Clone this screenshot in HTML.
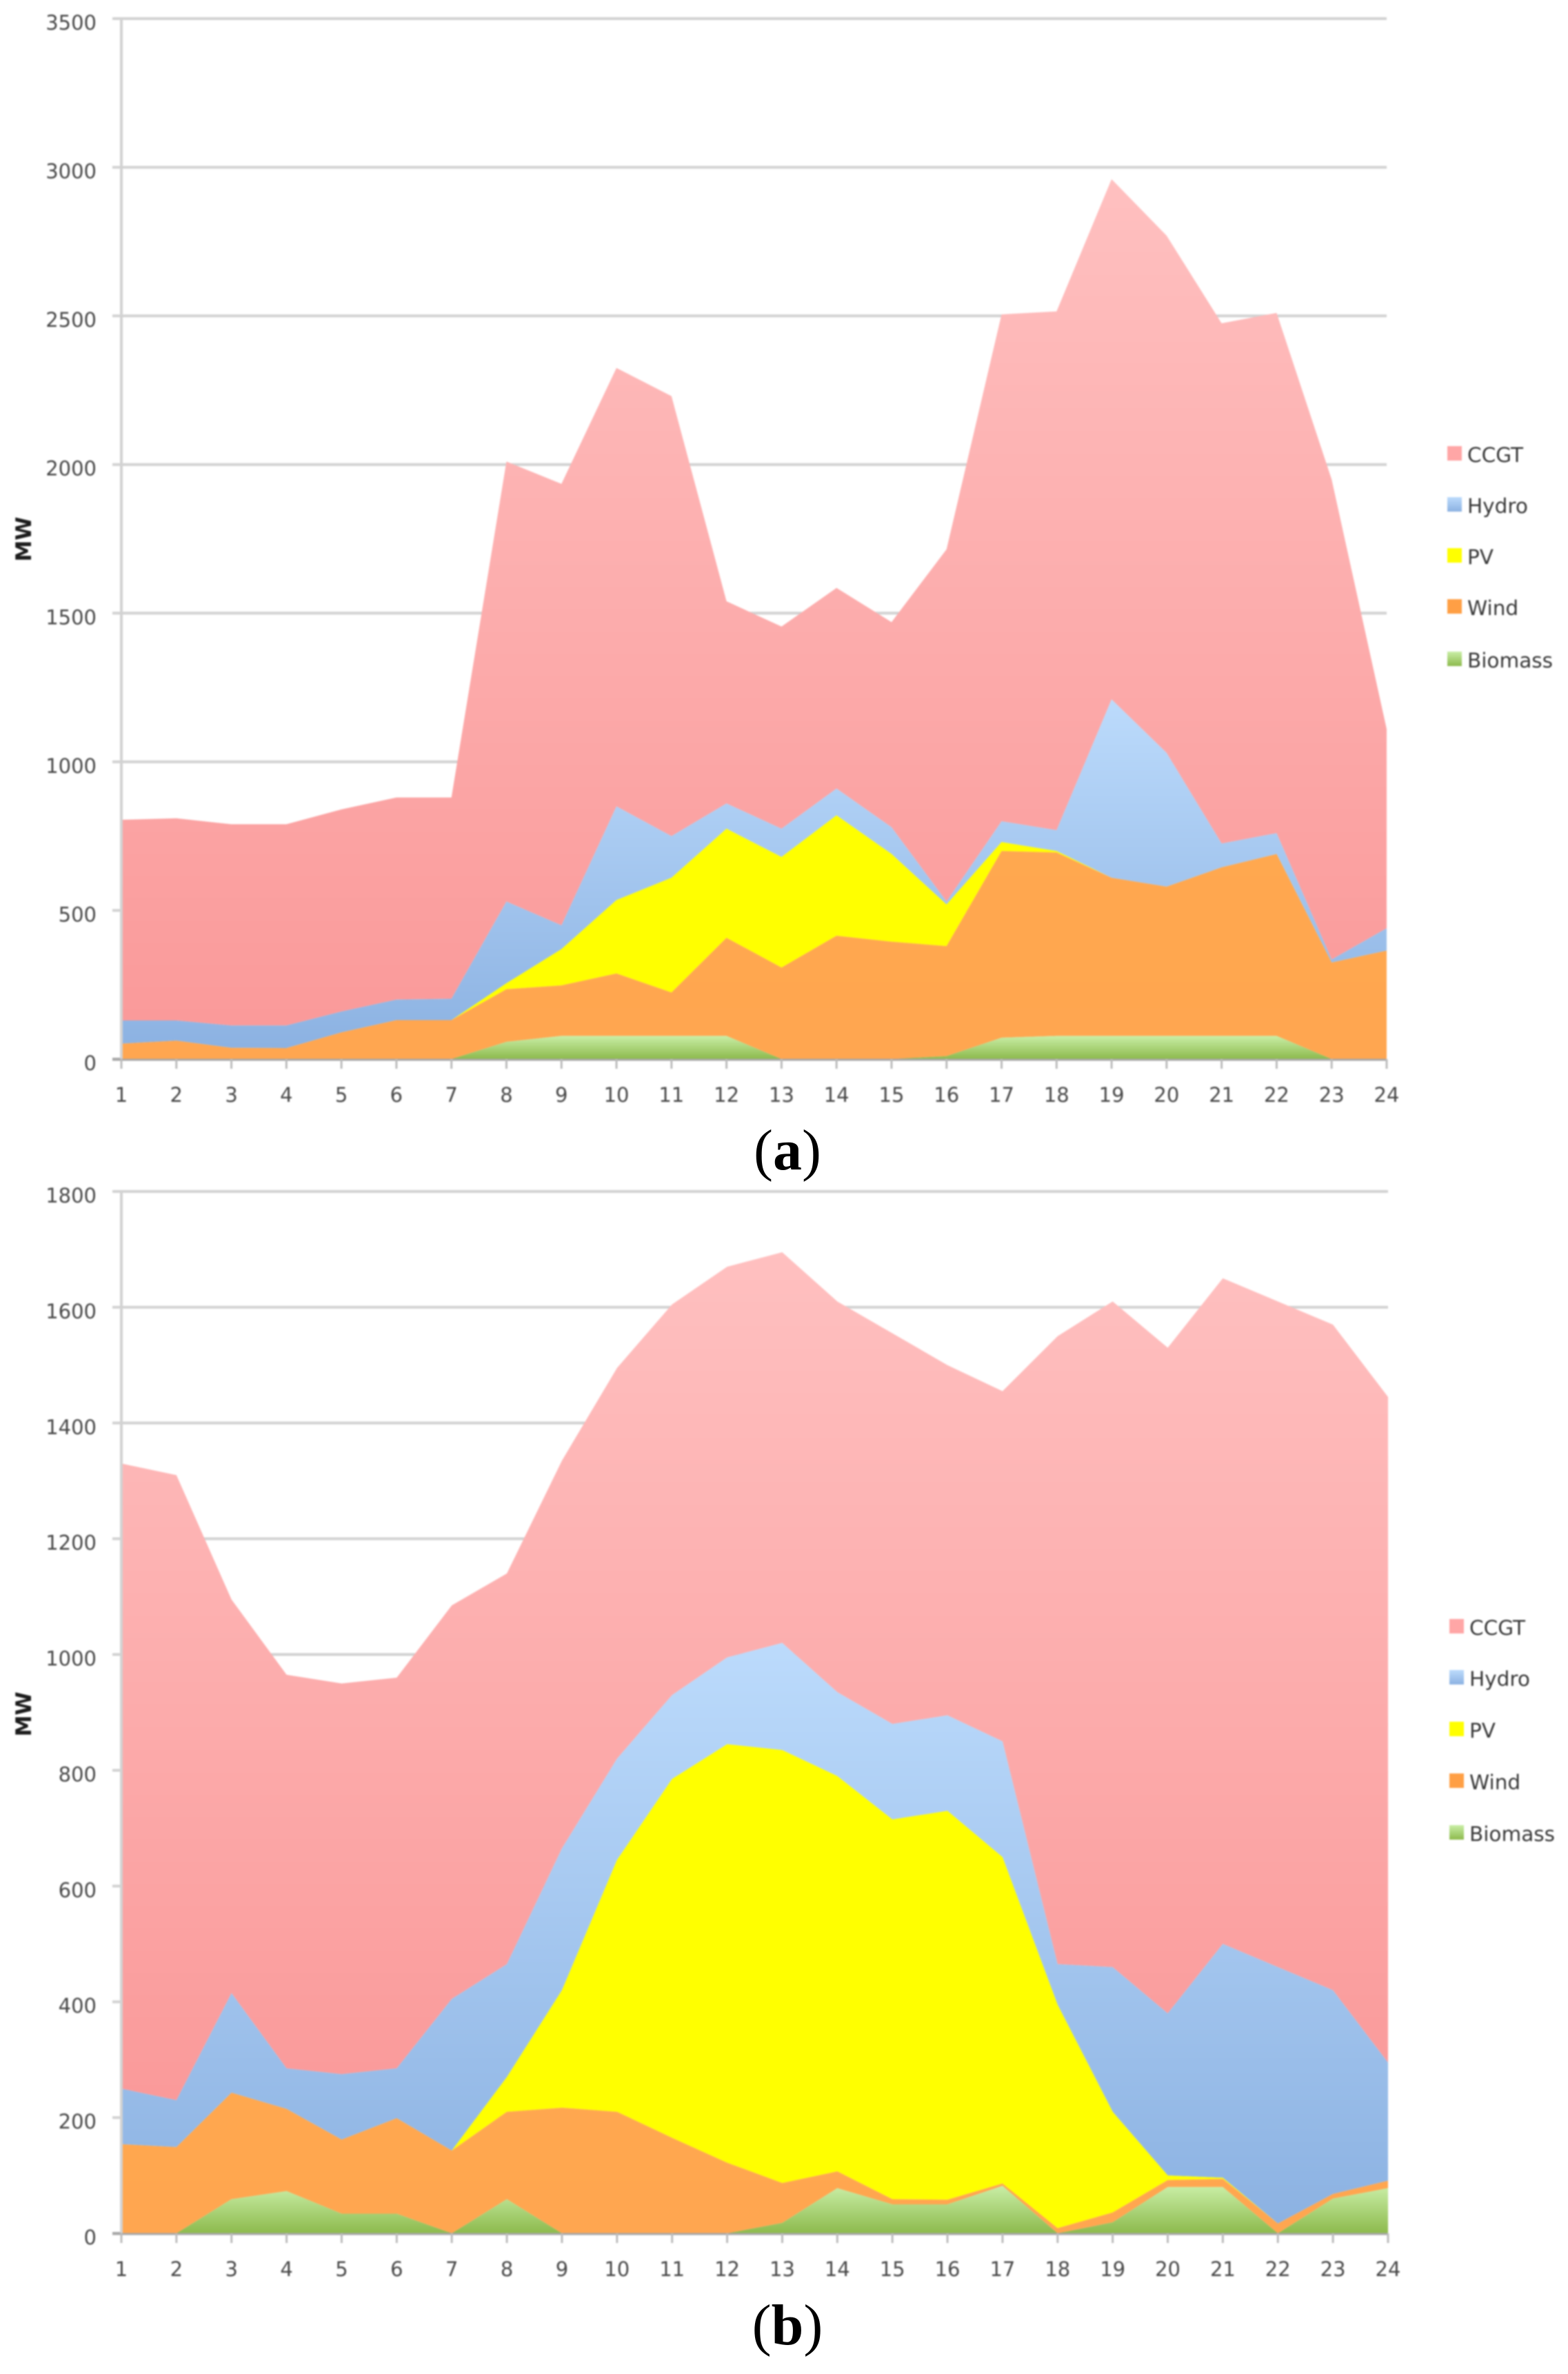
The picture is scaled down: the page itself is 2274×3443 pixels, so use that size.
<!DOCTYPE html>
<html lang="en">
<head>
<meta charset="utf-8">
<title>Hourly generation mix by source</title>
<style>
html,body{margin:0;padding:0;background:#fff;}
#figure{display:block;width:2274px;height:3443px;}
#plots{filter:blur(1.1px);}
text{font-family:"DejaVu Sans","Liberation Sans",sans-serif;}
</style>
</head>
<body>
<svg id="figure" xmlns="http://www.w3.org/2000/svg" width="2274" height="3443" viewBox="0 0 2274 3443">
<defs>
<linearGradient id="grad-ccgt" x1="0" y1="0" x2="0" y2="1"><stop offset="0" stop-color="#ffc0c0"/><stop offset="1" stop-color="#fa9a9a"/></linearGradient>
<linearGradient id="grad-hydro" x1="0" y1="0" x2="0" y2="1"><stop offset="0" stop-color="#bcdbfc"/><stop offset="1" stop-color="#8cb2e2"/></linearGradient>
<linearGradient id="grad-wind" x1="0" y1="0" x2="0" y2="1"><stop offset="0" stop-color="#ffa84f"/><stop offset="1" stop-color="#ffa650"/></linearGradient>
<linearGradient id="grad-biomass" x1="0" y1="0" x2="0" y2="1"><stop offset="0" stop-color="#c9eea6"/><stop offset="1" stop-color="#8dba4d"/></linearGradient>
</defs>
<g id="plots"></g>
<text x="1142" y="1696" font-size="84" style="font-family:'Liberation Serif',serif" text-anchor="middle" fill="#000">(<tspan font-weight="bold">a</tspan>)</text>
<text x="1142" y="3400" font-size="84" style="font-family:'Liberation Serif',serif" text-anchor="middle" fill="#000">(<tspan font-weight="bold">b</tspan>)</text>
</svg>
<script>
// Shared categories
const hours = [1,2,3,4,5,6,7,8,9,10,11,12,13,14,15,16,17,18,19,20,21,22,23,24];
const legendNames = ['CCGT','Hydro','PV','Wind','Biomass'];

// Panel (a) values in MW
const aTicks = [0,500,1000,1500,2000,2500,3000,3500];
const aBiomass = [0,0,0,0,0,0,0,58,78,78,78,78,0,0,0,10,72,78,78,78,78,78,0,0];
const aWind = [52,62,38,37,90,131,131,177,170,210,146,330,308,415,395,370,628,617,532,502,567,612,325,365];
const aPv = [0,0,0,0,0,0,0,20,122,247,386,367,372,405,295,140,30,5,0,0,0,0,0,0];
const aHydro = [78,68,75,76,70,69,72,275,80,315,140,85,95,90,90,10,70,70,600,450,80,70,10,75];
const aCcgt = [675,680,677,677,680,680,677,1480,1485,1475,1480,680,680,675,690,1185,1705,1745,1750,1740,1750,1750,1615,670];

// Panel (b) values in MW
const bTicks = [0,200,400,600,800,1000,1200,1400,1600,1800];
const bBiomass = [0,0,59,73,34,34,0,59,0,0,0,0,18,78,50,50,82,0,19,80,80,0,60,78];
const bWind = [154,149,184,142,128,165,143,151,217,210,165,122,69,29,9,8,4,9,17,12,14,17,8,13];
const bPv = [0,0,0,0,0,0,0,60,203,435,620,723,748,683,656,672,564,386,174,8,2,0,0,0];
const bHydro = [96,81,172,70,113,86,262,195,245,175,145,150,185,145,165,165,200,70,250,280,404,443,352,204];
const bCcgt = [1080,1080,680,680,675,675,680,675,670,675,675,675,675,675,675,605,605,1085,1150,1150,1150,1150,1150,1150];

const SVGNS = 'http://www.w3.org/2000/svg';
const plots = document.getElementById('plots');

function make(tag, attrs, parent) {
  const el = document.createElementNS(SVGNS, tag);
  for (const k in attrs) el.setAttribute(k, attrs[k]);
  parent.appendChild(el);
  return el;
}

function drawPanel(p) {
  const g = make('g', {}, plots);
  
  

  const xScale = h => p.left + (h - hours[0]) / (hours[hours.length - 1] - hours[0]) * (p.right - p.left);
  const yScale = v => p.zero - v / p.ticks[p.ticks.length - 1] * (p.zero - p.top);

  // gridlines and y tick labels
  p.ticks.forEach(t => {
    const y = yScale(t);
    const line = make('line', {x1: p.left - 13, x2: p.right, y1: y, y2: y, stroke: t === 0 ? '#a8a8a8' : '#d2d2d2', 'stroke-width': 4}, g);
    
    
    const label = make('text', {x: p.left - 36, y: y + 16, 'font-size': 29, 'text-anchor': 'end', fill: '#484848'}, g);
    label.textContent = String(t);
    
    
  });

  // stacked areas
  const stack = [
    {name: 'biomass', values: p.biomass, fill: 'url(#grad-biomass)'},
    {name: 'wind', values: p.wind, fill: 'url(#grad-wind)'},
    {name: 'pv', values: p.pv, fill: '#ffff00'},
    {name: 'hydro', values: p.hydro, fill: 'url(#grad-hydro)'},
    {name: 'ccgt', values: p.ccgt, fill: 'url(#grad-ccgt)'}
  ];
  let base = hours.map(() => 0);
  const layers = [];
  stack.forEach(s => {
    const tops = base.map((b, i) => b + s.values[i]);
    const upper = hours.map((h, i) => xScale(h) + ',' + yScale(tops[i]));
    const lower = hours.map((h, i) => xScale(h) + ',' + yScale(base[i])).reverse();
    layers.push({s: s, pts: upper.concat(lower).join(' ')});
    base = tops;
  });
  layers.reverse().forEach(l => {
    const area = make('polygon', {points: l.pts, fill: l.s.fill}, g);
    
    
  });

  // axes
  const yAxis = make('line', {x1: p.left, x2: p.left, y1: p.top, y2: p.zero, stroke: '#d2d2d2', 'stroke-width': 4}, g);
  
  
  const xAxis = make('line', {x1: p.left - 13, x2: p.right, y1: p.zero + 1, y2: p.zero + 1, stroke: '#a8a8a8', 'stroke-width': 3}, g);
  
  

  hours.forEach(h => {
    const x = xScale(h);
    const tick = make('line', {x1: x, x2: x, y1: p.zero, y2: p.zero + 14, stroke: '#bcbcbc', 'stroke-width': 3}, g);
    
    
    const label = make('text', {x: x, y: p.zero + 62, 'font-size': 29, 'text-anchor': 'middle', fill: '#484848'}, g);
    label.textContent = String(h);
    
    
  });

  // y-axis title
  const title = make('text', {x: 0, y: 0, 'font-size': 31, 'font-weight': 'bold', 'text-anchor': 'middle', fill: '#1c1c1c', transform: 'translate(45 ' + p.titleY + ') rotate(-90)'}, g);
  title.textContent = 'MW';
  
  

  // legend
  const swatchFills = ['#ffa6a6', 'url(#grad-hydro)', '#ffff00', '#ff9f45', 'url(#grad-biomass)'];
  legendNames.forEach((n, i) => {
    const swatch = make('rect', {x: p.legendX, y: p.legendY[i], width: 21, height: 21, fill: swatchFills[i]}, g);
    
    
    const label = make('text', {x: p.legendX + 29, y: p.legendY[i] + 23, 'font-size': 29.5, fill: '#383838'}, g);
    label.textContent = n;
    
    
  });
}

drawPanel({id: 'a', left: 176, right: 2011, top: 27, zero: 1536, ticks: aTicks, titleY: 782,
  biomass: aBiomass, wind: aWind, pv: aPv, hydro: aHydro, ccgt: aCcgt,
  legendX: 2099, legendY: [647, 721, 795, 869, 945]});
drawPanel({id: 'b', left: 176, right: 2013, top: 1728, zero: 3239, ticks: bTicks, titleY: 2486,
  biomass: bBiomass, wind: bWind, pv: bPv, hydro: bHydro, ccgt: bCcgt,
  legendX: 2102, legendY: [2348, 2422, 2497, 2572, 2647]});
</script>
</body>
</html>
